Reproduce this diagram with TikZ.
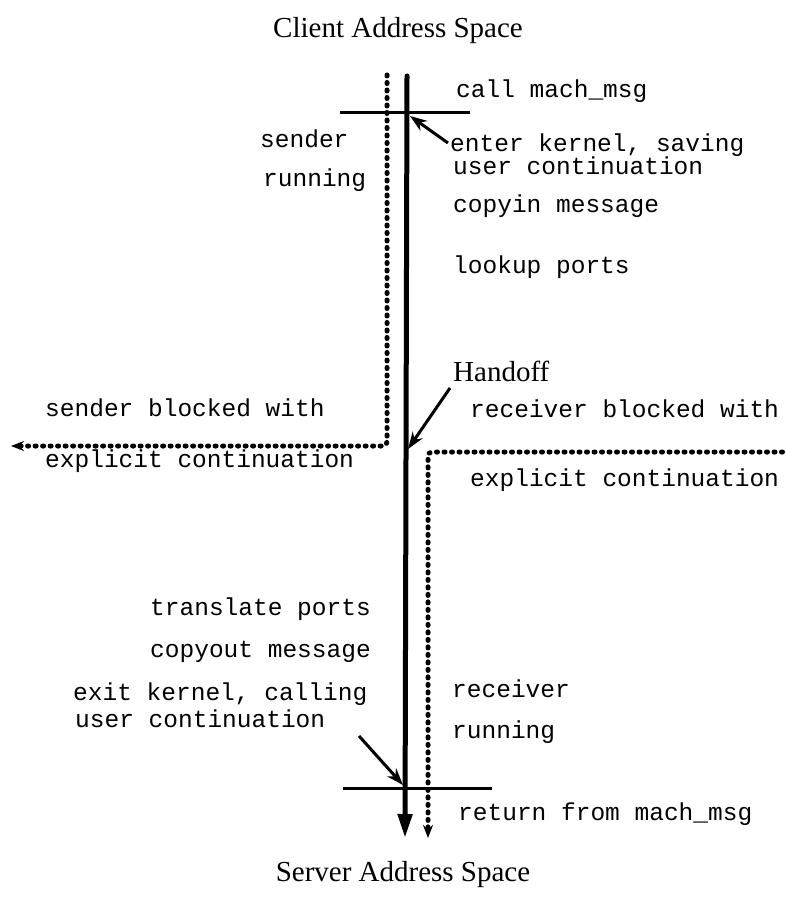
\documentclass[tikz,border=0pt]{standalone}
\usepackage{fontspec}
\setmainfont{Liberation Serif}
\setmonofont{Liberation Mono}
\usetikzlibrary{arrows.meta}
\begin{document}
\begin{tikzpicture}[x=1pt,y=-1pt,
  lbl/.style={font=\ttfamily\fontsize{24.5}{26}\selectfont, anchor=base west, inner sep=0pt},
  ttl/.style={font=\fontsize{29}{32}\selectfont, anchor=base, inner sep=0pt},
  thread/.style={line width=5pt, line cap=round},
  dots/.style={line width=5pt, line cap=round, dash pattern=on 1pt off 6.5pt},
  callout/.style={line width=3pt, -{Stealth[length=17pt,width=12pt]}},
  bar/.style={line width=3pt}]
\useasboundingbox (0,0) rectangle (785,901);

% titles
\node[ttl] (client) at (398,38) {Client Address Space};
\node[ttl] (server) at (403,881) {Server Address Space};
\node[ttl, anchor=base west] (handoff) at (453,381) {Handoff};

% labels
\node[lbl] (call) at (456,98) {call mach\_msg};
\node[lbl] (enter) at (450,152) {enter kernel, saving};
\node[lbl] (usercont1) at (453,175) {user continuation};
\node[lbl] (copyin) at (453,213) {copyin message};
\node[lbl] (lookup) at (453,273) {lookup ports};
\node[lbl] (sender) at (260,148) {sender};
\node[lbl] (srun) at (263,187) {running};
\node[lbl] (sblock) at (45,416) {sender blocked with};
\node[lbl] (sexp) at (45,467) {explicit continuation};
\node[lbl] (rblock) at (470,417) {receiver blocked with};
\node[lbl] (rexp) at (470,486) {explicit continuation};
\node[lbl] (translate) at (150,615) {translate ports};
\node[lbl] (copyout) at (150,657) {copyout message};
\node[lbl] (exitk) at (73,700) {exit kernel, calling};
\node[lbl] (usercont2) at (75,727) {user continuation};
\node[lbl] (receiver) at (452,697) {receiver};
\node[lbl] (rrun) at (452,738) {running};
\node[lbl] (ret) at (458,820) {return from mach\_msg};

% coordinates
\coordinate (kt) at (407,76);
\coordinate (kb) at (405,838);
\coordinate (st) at (387,75);
\coordinate (sc) at (387,446);
\coordinate (se) at (11,446);
\coordinate (rs) at (790,452);
\coordinate (rc) at (428,452);
\coordinate (re) at (428,838);
\coordinate (b1l) at (340,113);
\coordinate (b1r) at (470,113);
\coordinate (b2l) at (343,788);
\coordinate (b2r) at (492,788);
\coordinate (kin) at (410,116);
\coordinate (kho) at (408,449);
\coordinate (kout) at (403,785);
\coordinate (c1) at (448,143);
\coordinate (c2) at (450,388);
\coordinate (c3) at (359,736);

% kernel thread (solid)
\draw[thread, -{Triangle[length=24pt,width=14pt]}] (kt) -- (kb);

% sender (dotted)
\draw[dots, rounded corners=4pt, -{Stealth[length=13pt,width=10pt]}] (st) -- (sc) -- (se);
% receiver (dotted)
\draw[dots, rounded corners=4pt, -{Stealth[length=13pt,width=10pt]}] (rs) -- (rc) -- (re);

% bars
\draw[bar] (b1l) -- (b1r);
\draw[bar] (b2l) -- (b2r);

% callouts
\draw[callout] (c1) -- (kin);
\draw[callout] (c2) -- (kho);
\draw[callout] (c3) -- (kout);
\end{tikzpicture}
\end{document}
